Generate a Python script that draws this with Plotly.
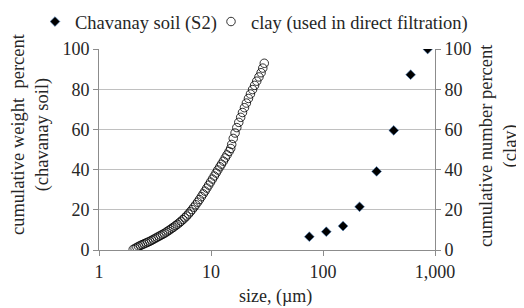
import plotly.graph_objects as go

# Chavanay soil (S2): cumulative weight percent vs size (um)
chav_size = [75.5, 107, 151, 212, 301, 428, 606, 860]
chav_pct = [6.6, 9.1, 11.9, 21.5, 39.1, 59.5, 87.2, 100]

# clay (used in direct filtration): cumulative number percent vs size (um)
clay_size = [2.02, 2.10, 2.18, 2.26, 2.35, 2.44, 2.53, 2.63, 2.73, 2.84,
             2.95, 3.06, 3.18, 3.30, 3.43, 3.56, 3.70, 3.84, 3.99, 4.14,
             4.30, 4.47, 4.64, 4.82, 5.01, 5.20, 5.40, 5.61, 5.83, 6.05,
             6.29, 6.53, 6.78, 7.04, 7.31, 7.60, 7.89, 8.20, 8.51, 8.84,
             9.18, 9.54, 9.91, 10.3, 10.7, 11.1, 11.5, 12.0, 12.4, 12.9,
             13.4, 13.9, 14.5, 15.0, 15.3,
             15.8, 16.4, 17.0, 17.7, 18.4, 19.1, 19.9, 20.7, 21.6, 22.5,
             23.5, 24.5, 25.6, 26.8, 28.0, 29.0, 29.9]
clay_pct = [0.3, 0.8, 1.3, 1.8, 2.3, 2.7, 3.1, 3.5, 3.9, 4.3,
            4.8, 5.3, 5.8, 6.3, 6.8, 7.3, 7.8, 8.3, 8.9, 9.5,
            10.1, 10.8, 11.4, 12.1, 12.8, 13.5, 14.3, 15.1, 16.0, 16.9,
            17.9, 19.0, 20.1, 21.3, 22.5, 23.8, 25.1, 26.5, 27.9, 29.3,
            30.8, 32.3, 33.8, 35.3, 36.8, 38.3, 39.8, 41.4, 42.7, 44.2,
            45.8, 47.3, 49.0, 50.5, 52.5,
            55.5, 58.2, 60.9, 63.5, 66.0, 68.4, 70.8, 73.1, 75.4, 77.6,
            79.8, 81.9, 84.0, 86.1, 88.2, 90.5, 92.9]

x_tickvals = [1, 10, 100, 1000]
x_ticktext = ["1", "10", "100", "1,000"]
y_tickvals = [0, 20, 40, 60, 80, 100]

left_title = "cumulative weight  percent<br>(chavanay soil)"
right_title = "cumulative number percent<br>(clay)"
x_title = "size, (µm)"

FONT = "Liberation Serif"
TXT = "#262626"
GRID = "#c0c0c0"
AXIS = "#8c8c8c"
FS_TICK = 18
FS_LEG = 18.5
FS_TITLE = 18.5
FS_XT = 18

# page body has an 8px margin; figure is drawn in page coords minus 8
OFF = 8
W, H = 524 - OFF, 308 - OFF
L = 99 - OFF
R = W - (435 - OFF)
T = 49 - OFF
B = H - (250 - OFF)
pw, ph = W - L - R, H - T - B

def px_x(page_px):
    return (page_px - OFF - L) / pw

def px_y(page_py):
    return (H - B - (page_py - OFF)) / ph

def cont_x(page_px):
    return (page_px - OFF) / W

fig = go.Figure()
fig.add_trace(go.Scatter(
    x=chav_size, y=chav_pct, mode="markers", name="Chavanay soil (S2)",
    marker=dict(symbol="diamond", size=7.5, color="black",
                line=dict(color="#4a7ebb", width=0.6)),
    yaxis="y", legend="legend"))
fig.add_trace(go.Scatter(
    x=clay_size, y=clay_pct, mode="markers", name="clay (used in direct filtration)",
    marker=dict(symbol="circle-open", size=8.5, color="black",
                line=dict(color="black", width=0.8)),
    yaxis="y2", legend="legend2"))

leg_common = dict(orientation="h", xanchor="left", yanchor="top",
                  xref="container", yref="paper",
                  font=dict(size=FS_LEG, family=FONT, color=TXT),
                  itemwidth=30, bgcolor="rgba(0,0,0,0)")

fig.update_layout(
    width=W, height=H,
    margin=dict(l=L, r=R, t=T, b=B, autoexpand=False),
    paper_bgcolor="white", plot_bgcolor="white",
    font=dict(family=FONT, size=FS_TICK, color=TXT),
    showlegend=True,
    legend=dict(x=cont_x(35), y=px_y(3), **leg_common),
    legend2=dict(x=cont_x(211), y=px_y(3), **leg_common),
    xaxis=dict(type="log", range=[0, 3], tickvals=x_tickvals, ticktext=x_ticktext,
               showgrid=False, showline=True, linecolor=AXIS, linewidth=1,
               ticks="outside", ticklen=5, tickcolor=AXIS, zeroline=False,
               automargin=False, tickfont=dict(size=FS_TICK)),
    yaxis=dict(range=[0, 100], tickvals=y_tickvals, showgrid=True, gridcolor=GRID,
               gridwidth=1, showline=True, linecolor=AXIS, linewidth=1,
               ticks="outside", ticklen=5, tickcolor=AXIS, zeroline=False,
               automargin=False, tickfont=dict(size=FS_TICK)),
    yaxis2=dict(range=[0, 100], tickvals=y_tickvals, overlaying="y", side="right",
                showgrid=False, showline=True, linecolor=AXIS, linewidth=1,
                ticks="outside", ticklen=5, tickcolor=AXIS, zeroline=False,
                automargin=False, tickfont=dict(size=FS_TICK)),
    annotations=[
        dict(text=left_title, textangle=-90, showarrow=False,
             xref="paper", yref="paper", x=px_x(31), y=px_y(134),
             xanchor="center", yanchor="middle",
             font=dict(size=FS_TITLE, family=FONT, color=TXT)),
        dict(text=right_title, textangle=-90, showarrow=False,
             xref="paper", yref="paper", x=px_x(498), y=px_y(146),
             xanchor="center", yanchor="middle",
             font=dict(size=FS_TITLE, family=FONT, color=TXT)),
        dict(text=x_title, showarrow=False,
             xref="paper", yref="paper", x=px_x(275), y=px_y(296),
             xanchor="center", yanchor="middle",
             font=dict(size=FS_XT, family=FONT, color=TXT)),
    ],
)
fig.write_html("out.html")
